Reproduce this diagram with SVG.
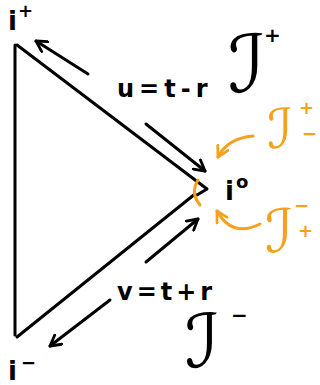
<svg xmlns="http://www.w3.org/2000/svg" width="320" height="385" viewBox="0 0 320 385">
<style>
.k{stroke:#000;stroke-width:3;fill:none;stroke-linecap:round;stroke-linejoin:round}
.o{stroke:#F6A11E;stroke-width:3;fill:none;stroke-linecap:round;stroke-linejoin:round}
.t{font-family:"DejaVu Sans",sans-serif;fill:#000;font-weight:bold}
.s{font-family:"DejaVu Sans",sans-serif;fill:#000}
.to{font-family:"DejaVu Sans",sans-serif;fill:#F6A11E}
.tob{font-family:"DejaVu Sans",sans-serif;fill:#F6A11E;font-weight:bold}
</style>
<defs>
<marker id="ak" viewBox="0 0 12 12" refX="10" refY="6" markerWidth="14" markerHeight="14" markerUnits="userSpaceOnUse" orient="auto"><path d="M1,1 L10,6 L1,11" fill="none" stroke="#000" stroke-width="2.4" stroke-linecap="round" stroke-linejoin="round"/></marker>
<marker id="ao" viewBox="0 0 12 12" refX="10" refY="6" markerWidth="14" markerHeight="14" markerUnits="userSpaceOnUse" orient="auto"><path d="M1,1 L10,6 L1,11" fill="none" stroke="#F6A11E" stroke-width="2.4" stroke-linecap="round" stroke-linejoin="round"/></marker>
</defs>
<g id="connectors">
<path class="k" d="M15,45 L15,335"/>
<path class="k" d="M17,45 L207,189 L197,195"/>
<path class="k" d="M195,194 L17,337"/>
<path class="k" d="M88,74 L36,41" marker-end="url(#ak)"/>
<path class="k" d="M146,124 L205,171" marker-end="url(#ak)"/>
<path class="k" d="M146,262 L198,219" marker-end="url(#ak)"/>
<path class="k" d="M110,300 L50,346" marker-end="url(#ak)"/>
<path class="o" d="M253,136 Q228,138 218,157" marker-end="url(#ao)"/>
<path class="o" d="M260,224 Q232,238 217,211" marker-end="url(#ao)"/>
<path class="o" d="M198,180 Q190,193 200,205"/>
</g>
<g id="i-plus"><text class="t" x="8" y="30" font-size="26">i</text><text class="t" x="18" y="17" font-size="18">+</text></g>
<g id="i-minus"><text class="t" x="8" y="380" font-size="26">i</text><text class="t" x="21" y="369" font-size="18">−</text></g>
<g id="i-zero"><text class="t" x="225" y="200" font-size="26">i</text><text class="t" x="236" y="188" font-size="18">o</text></g>
<g id="scri-plus"><text class="s" x="228" y="92" font-size="80">ℐ</text><text class="t" x="264" y="42" font-size="20">+</text></g>
<g id="scri-minus"><text class="s" x="185" y="367" font-size="74">ℐ</text><text class="t" x="231" y="322" font-size="20">−</text></g>
<g id="u-label"><text class="t" x="117" y="97" font-size="24" letter-spacing="5">u=t-r</text></g>
<g id="v-label"><text class="t" x="117" y="300" font-size="24" letter-spacing="4">v=t+r</text></g>
<g id="scri-plus-minus"><text class="to" x="267" y="148" font-size="55">ℐ</text><text class="tob" x="299" y="114" font-size="18">+</text><text class="tob" x="302" y="140" font-size="18">−</text></g>
<g id="scri-minus-plus"><text class="to" x="265" y="252" font-size="60">ℐ</text><text class="tob" x="294" y="212" font-size="18">−</text><text class="tob" x="298" y="237" font-size="18">+</text></g>
</svg>
